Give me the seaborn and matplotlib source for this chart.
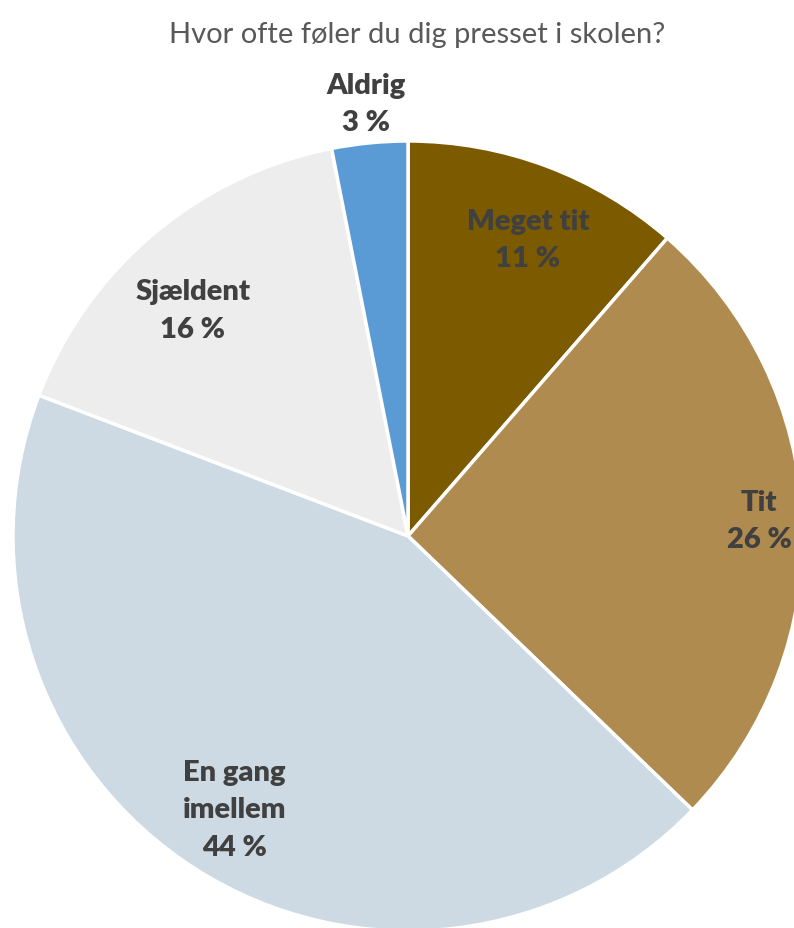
import seaborn as sns
import matplotlib.pyplot as plt
import numpy as np

# data
categories = ['Meget tit', 'Tit', 'En gang\nimellem', 'Sjældent', 'Aldrig']
shares = [11.4, 25.8, 43.6, 16.1, 3.1]
colors = ['#7B5A00', '#B08B4F', '#CDDAE4', '#EDEDED', '#5B9BD5']
label_dist = [0.81, 0.89, 0.82, 0.79, 1.10]
label_shift = [1.5, 0, 0, -3.5, 0]  # degrees, clockwise
title = 'Hvor ofte føler du dig presset i skolen?'

sns.set_theme(style='white')
plt.rcParams['font.family'] = ['Lato', 'DejaVu Sans']

W, H = 794, 929
fig = plt.figure(figsize=(W / 100, H / 100), dpi=100)

# pie centre and radius in pixels (pie is cut at right/bottom)
cx, cy, r = 408, 537, 395
ax = fig.add_axes([(cx - r) / W, (H - cy - r) / H, 2 * r / W, 2 * r / H])

wedges, _ = ax.pie(shares, colors=colors, startangle=90, counterclock=False,
                   wedgeprops={'edgecolor': 'white', 'linewidth': 2.5})
ax.set_xlim(-1, 1)
ax.set_ylim(-1, 1)
ax.set_aspect('equal')
ax.axis('off')

for w, cat, val, d, s in zip(wedges, categories, shares, label_dist, label_shift):
    ang = np.deg2rad((w.theta1 + w.theta2) / 2 - s)
    ax.text(d * np.cos(ang), d * np.sin(ang), f'{cat}\n{round(val)} %',
            ha='center', va='center', multialignment='center',
            fontsize=21, fontweight='heavy', color='#404040', linespacing=1.55,
            clip_on=False)

fig.text(417 / W, 1 - 35 / H, title, ha='center', va='center',
         fontsize=21, color='#595959')

fig.savefig('out.png', dpi=100)
